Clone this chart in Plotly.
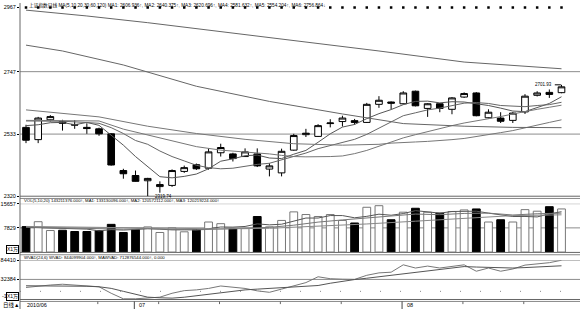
import plotly.graph_objects as go

W, H = 580, 312

# ---------------- data ----------------
idx = list(range(45))
opens  = [2556, 2514, 2582, 2576, 2566, 2556, 2551, 2534, 2408, 2391, 2373, 2353, 2357, 2405, 2428,
          2416, 2469, 2465, 2456, 2465, 2413, 2400, 2478, 2531, 2525, 2569, 2576, 2579, 2573, 2635,
          2643, 2637, 2680, 2621, 2637, 2618, 2660, 2674, 2589, 2588, 2580, 2609, 2666, 2676, 2675]
highs  = [2565, 2592, 2598, 2582, 2581, 2570, 2555, 2536, 2414, 2408, 2383, 2371, 2412, 2425, 2432,
          2484, 2500, 2469, 2484, 2484, 2433, 2483, 2534, 2551, 2567, 2584, 2596, 2585, 2640, 2663,
          2645, 2680, 2682, 2639, 2639, 2660, 2676, 2677, 2618, 2608, 2608, 2670, 2680, 2686, 2701.93]
lows   = [2502, 2502, 2576, 2545, 2551, 2534, 2527, 2425, 2380, 2370, 2319.74, 2332, 2352, 2400, 2410,
          2411, 2456, 2439, 2455, 2420, 2388, 2388, 2476, 2523, 2523, 2556, 2559, 2565, 2571, 2623,
          2618, 2635, 2628, 2592, 2608, 2601, 2657, 2594, 2587, 2571, 2571, 2602, 2662, 2657, 2673]
closes = [2512, 2588, 2593, 2570, 2564, 2552, 2534, 2427, 2397, 2371, 2381, 2360, 2408, 2418, 2414,
          2472, 2487, 2449, 2472, 2424, 2424, 2474, 2528, 2536, 2562, 2571, 2588, 2573, 2635, 2649,
          2639, 2674, 2630, 2637, 2621, 2657, 2672, 2596, 2608, 2577, 2605, 2663, 2674, 2669, 2695]

ma5 = [2562, 2565, 2572, 2573, 2565, 2573, 2563, 2529, 2495, 2456, 2422, 2387, 2383, 2388, 2396,
       2414, 2440, 2448, 2459, 2461, 2451, 2449, 2464, 2477, 2505, 2534, 2557, 2566, 2586, 2603,
       2617, 2634, 2645, 2646, 2640, 2644, 2643, 2637, 2631, 2622, 2612, 2610, 2625, 2638, 2661]
ma10 = [2578, 2578, 2578, 2577, 2575, 2573, 2570, 2555, 2535, 2511, 2498, 2475, 2456, 2441, 2426,
        2418, 2414, 2416, 2423, 2429, 2433, 2444, 2456, 2468, 2483, 2493, 2503, 2515, 2532, 2554,
        2576, 2596, 2606, 2616, 2622, 2630, 2639, 2641, 2638, 2631, 2628, 2627, 2631, 2634, 2642]
ma20_x = [0, 4, 6, 8, 10, 12, 14, 16, 18, 19, 20, 21, 22, 23, 24, 25, 26, 27, 28, 29, 30, 31, 32,
          33, 34, 35, 36, 37, 38, 39, 40, 41, 42, 43, 44]
ma20 = [2580, 2580, 2578, 2550, 2530, 2510, 2490, 2478, 2472, 2470, 2465, 2460, 2456, 2455, 2455,
        2456, 2458, 2466, 2477, 2491, 2504, 2520, 2531, 2542, 2552, 2562, 2571, 2578, 2585, 2593,
        2602, 2611, 2618, 2625, 2632]
ma30_x = [0, 6, 10, 14, 18, 22, 26, 29, 30, 31, 32, 33, 34, 35, 36, 37, 38, 39, 40, 41, 42, 43, 44]
ma30 = [2616, 2592, 2560, 2535, 2515, 2500, 2495, 2498, 2502, 2505, 2506, 2508, 2510, 2514, 2518,
        2524, 2531, 2538, 2545, 2555, 2564, 2573, 2582]
ma60_x = [0, 3, 8, 14, 20, 26, 31, 36, 40, 44]
ma60 = [2838, 2818, 2770, 2697, 2645, 2602, 2569, 2560, 2556, 2555]
ma120_x = [0, 5, 10, 16, 22, 29, 36, 40, 44]
ma120 = [2958, 2938, 2915, 2885, 2855, 2818, 2780, 2768, 2757]

volume = [8240, 9830, 6970, 7070, 6660, 6660, 6970, 8970, 6340, 7290, 8150, 6340, 7830, 6560, 7290,
          9730, 9190, 7610, 7610, 11500, 8150, 10240, 13000, 12140, 11510, 12140, 10240, 9410, 14490,
          15000, 10460, 12900, 14170, 12900, 12580, 13090, 13630, 13950, 9730, 10460, 9730, 13730,
          13220, 14680, 13950]
vma5 = [8000, 7900, 7800, 7700, 7750, 7440, 6870, 7270, 7120, 7250, 7540, 7420, 7190, 7230, 7230,
        7550, 8120, 8080, 8290, 9130, 8810, 9020, 10100, 11010, 11010, 11810, 11810, 11090, 11560,
        12260, 11920, 12450, 13400, 13090, 12600, 13130, 13270, 13230, 12600, 12170, 11500, 11520,
        11370, 12360, 13060]
vma10_x = [0, 2, 4, 6, 8, 10, 12, 14, 16, 18, 20, 22, 24, 26, 28, 30, 32, 34, 36, 38, 40, 42, 44]
vma10 = [8100, 7900, 7700, 7500, 7400, 7650, 7300, 7200, 7450, 7700, 8000, 8700, 9700, 10400, 11000,
         11700, 12300, 12100, 12500, 12600, 12000, 12400, 12600]
vma20_x = [0, 4, 8, 12, 16, 20, 24, 28, 32, 36, 40, 44]
vma20 = [8300, 8100, 7800, 7600, 7500, 7700, 8300, 9100, 10000, 11000, 11800, 12050]

wvad = [10550, 14500, 17150, 19260, 17150, 15040, 12400, -5280, -20300, -20300, -17150, -15830,
        -5280, 1850, 3960, 7910, 14500, 11870, 7910, 1320, -2640, 6070, 15830, 23740, 39570, 34290,
        32980, 32450, 43530, 50120, 51970, 72020, 63310, 68590, 63310, 67800, 72020, 54610, 63310,
        54610, 60670, 71230, 73860, 77820, 84410]
mawvad = [15040, 15040, 15040, 14800, 14500, 13800, 12400, 8000, 0, -8000, -15830, -17500, -18470,
          -16000, -11870, -8500, -5280, -1000, 3960, 6000, 7910, 9500, 10550, 13000, 15830, 22000,
          27700, 32000, 35610, 39500, 43530, 48000, 52760, 56000, 59360, 63000, 67270, 66000, 64630,
          63800, 63310, 64500, 65950, 67800, 69380]

y_ticks_main = [2320, 2533, 2747, 2967]
y_ticks_vol = [7829, 15657]
y_ticks_wvad = [32384, 84410]
month_labels = ["2010/06", "07", "08"]
month_pos = [0, 9, 31]
week_pos = [6, 11, 16, 21, 26, 36, 41]

# ---------------- helpers ----------------
def px(p):
    return p / W

def py(p):
    return 1 - p / H

FONT = "Liberation Sans, Noto Sans CJK SC, sans-serif"
XR = [-0.493, 45.52]

fig = go.Figure()

# candlesticks
fig.add_trace(go.Candlestick(
    x=idx, open=opens, high=highs, low=lows, close=closes,
    increasing=dict(line=dict(color="black", width=1), fillcolor="white"),
    decreasing=dict(line=dict(color="black", width=1), fillcolor="black"),
    whiskerwidth=0, xaxis="x", yaxis="y", showlegend=False, hoverinfo="skip"))

ma_style = dict(mode="lines", xaxis="x", yaxis="y", showlegend=False, hoverinfo="skip")
fig.add_trace(go.Scatter(x=idx, y=ma5, line=dict(color="#555555", width=1), **ma_style))
fig.add_trace(go.Scatter(x=idx, y=ma10, line=dict(color="#666666", width=1), **ma_style))
fig.add_trace(go.Scatter(x=ma20_x, y=ma20, line=dict(color="#777777", width=1), **ma_style))
fig.add_trace(go.Scatter(x=ma30_x, y=ma30, line=dict(color="#777777", width=1), **ma_style))
fig.add_trace(go.Scatter(x=ma60_x, y=ma60, line=dict(color="#666666", width=1), **ma_style))
fig.add_trace(go.Scatter(x=ma120_x, y=ma120, line=dict(color="#666666", width=1), **ma_style))

# top marks
fig.add_trace(go.Scatter(x=idx, y=[y_ticks_main[-1]] * len(idx), mode="markers",
                         marker=dict(symbol="square", size=2.5, color="black"),
                         xaxis="x", yaxis="y", showlegend=False, hoverinfo="skip", cliponaxis=False))

# volume
vcol = ["white" if c >= o else "black" for o, c in zip(opens, closes)]
vline = ["#777777" if c >= o else "black" for o, c in zip(opens, closes)]
fig.add_trace(go.Bar(x=idx, y=volume, marker=dict(color=vcol, line=dict(color=vline, width=1)),
                     width=0.64, xaxis="x2", yaxis="y2", showlegend=False, hoverinfo="skip"))
vs = dict(mode="lines", xaxis="x2", yaxis="y2", showlegend=False, hoverinfo="skip")
fig.add_trace(go.Scatter(x=idx, y=vma5, line=dict(color="#555555", width=1), **vs))
fig.add_trace(go.Scatter(x=vma10_x, y=vma10, line=dict(color="#777777", width=1), **vs))
fig.add_trace(go.Scatter(x=vma20_x, y=vma20, line=dict(color="#888888", width=1), **vs))

# wvad
ws = dict(mode="lines", xaxis="x3", yaxis="y3", showlegend=False, hoverinfo="skip")
fig.add_trace(go.Scatter(x=idx, y=wvad, line=dict(color="#777777", width=1), **ws))
fig.add_trace(go.Scatter(x=idx, y=mawvad, line=dict(color="#555555", width=1), **ws))

axis_x = dict(domain=[px(20), 1], range=XR, visible=False, fixedrange=True)
tickfont = dict(family=FONT, size=5.5, color="black")
yax = dict(showgrid=False, zeroline=False, showline=False, ticks="outside", ticklen=2,
           tickcolor="black", tickwidth=1, tickfont=tickfont, fixedrange=True)

fig.update_layout(
    width=W, height=H, margin=dict(l=0, r=0, t=0, b=0),
    paper_bgcolor="white", plot_bgcolor="white", showlegend=False,
    bargap=0.35, boxgap=0.22,
    xaxis=dict(anchor="y", rangeslider=dict(visible=False), **axis_x),
    xaxis2=dict(anchor="y2", matches="x", **axis_x),
    xaxis3=dict(anchor="y3", matches="x", **axis_x),
    yaxis=dict(domain=[py(197), py(4.6)], range=[2320, 2967], anchor="x",
               tickvals=y_ticks_main, ticktext=[str(v) for v in y_ticks_main], **yax),
    yaxis2=dict(domain=[py(254), py(204.6)], range=[0, 15657], anchor="x2",
                tickvals=y_ticks_vol, ticktext=[str(v) for v in y_ticks_vol], **yax),
    yaxis3=dict(domain=[py(303), py(262.3)], range=[-24000, 84410], anchor="x3",
                tickvals=y_ticks_wvad, ticktext=[str(v) for v in y_ticks_wvad], **yax),
)

shapes = []
def hline_px(p, color="#888888", dash="solid", width=1):
    shapes.append(dict(type="line", xref="paper", yref="paper", x0=px(20), x1=1,
                       y0=py(p), y1=py(p), line=dict(color=color, width=width, dash=dash)))

def hline_data(yref, v, color="#8c8c8c"):
    shapes.append(dict(type="line", xref="paper", yref=yref, x0=px(20), x1=1,
                       y0=v, y1=v, line=dict(color=color, width=1), layer="below"))

hline_data("y", 2747)
hline_data("y", 2533)
hline_px(197, "#666666")
hline_px(199.3, "#888888")
hline_data("y2", 15657)
hline_data("y2", 7829)
hline_px(254.3, "#666666")
hline_px(256.7, "#888888")
hline_data("y3", 84410)
hline_data("y3", 32384)
shapes.append(dict(type="line", xref="paper", yref="y3", x0=px(20), x1=1, y0=0, y1=0,
                   line=dict(color="#888888", width=1, dash="1px,19px")))
hline_px(302.3, "#666666")
hline_px(304.3, "#888888")
# left axis line
shapes.append(dict(type="line", xref="paper", yref="paper", x0=px(20), x1=px(20), y0=0, y1=1,
                   line=dict(color="#666666", width=1)))
# month separators and week ticks on the bottom row
for m in month_pos[1:]:
    shapes.append(dict(type="line", xref="x", yref="paper", x0=m - 0.1, x1=m - 0.1,
                       y0=0, y1=py(304.3), line=dict(color="#444444", width=1)))
for wk in week_pos:
    shapes.append(dict(type="line", xref="x", yref="paper", x0=wk - 0.1, x1=wk - 0.1,
                       y0=py(307), y1=py(304.3), line=dict(color="#666666", width=1)))
# marker lines for extremes
shapes.append(dict(type="line", xref="x", yref="y", x0=10, x1=10, y0=2319.74, y1=2322,
                   line=dict(color="black", width=1)))
shapes.append(dict(type="line", xref="x", yref="y", x0=43.45, x1=43.95, y0=highs[44], y1=highs[44],
                   line=dict(color="black", width=1)))
fig.update_layout(shapes=shapes)

ann = []
def text(x, y, s, size=4.5, anchor="left", xref="paper", yref="paper", **kw):
    ann.append(dict(x=x, y=y, xref=xref, yref=yref, text=s, showarrow=False,
                    xanchor=anchor, yanchor="middle",
                    font=dict(family=FONT, size=size, color="black"), **kw))

text(px(27), py(2.4), "上证指数日线 MA(5,10,20,30,60,120) MA1: 2606.936↑, MA2: 2640.375↑, "
     "MA3: 2620.696↑, MA4: 2581.632↑, MA5: 2554.204↑, MA6: 2756.864↓", size=4.7)
text(px(22), py(201.8), "VOL(5,10,20) 143211376.000↑, MA1: 133130096.000↑, MA2: 120572112.000↑, "
     "MA3: 120219224.000↑", size=4.3)
text(px(22), py(259.2), "WVAD(24,6) WVAD: 844099904.000↑, MAWVAD: 712876544.000↑, 0.000", size=4.3)
text(px(0), py(298.5), "-1", size=5.5)
for yy in (251, 299.5):
    ann.append(dict(x=px(12), y=py(yy), xref="paper", yref="paper", text="X1万", showarrow=False,
                    xanchor="center", yanchor="middle", bgcolor="white", bordercolor="black",
                    borderwidth=1, borderpad=0,
                    font=dict(family=FONT, size=5, color="black")))
text(px(0.5), py(308), "日线▲", size=5.5)
text(month_pos[0] - 0.05, py(308), month_labels[0], size=5.5, xref="x")
for m, lab in zip(month_pos[1:], month_labels[1:]):
    text(m + 0.1, py(308), lab, size=5.5, xref="x")
text(10.4, 2320, "2319.74", size=4.5, xref="x", yref="y")
text(43.4, highs[44], "2701.93", size=4.5, anchor="right", xref="x", yref="y")
fig.update_layout(annotations=ann)

fig.write_html("out.html")
